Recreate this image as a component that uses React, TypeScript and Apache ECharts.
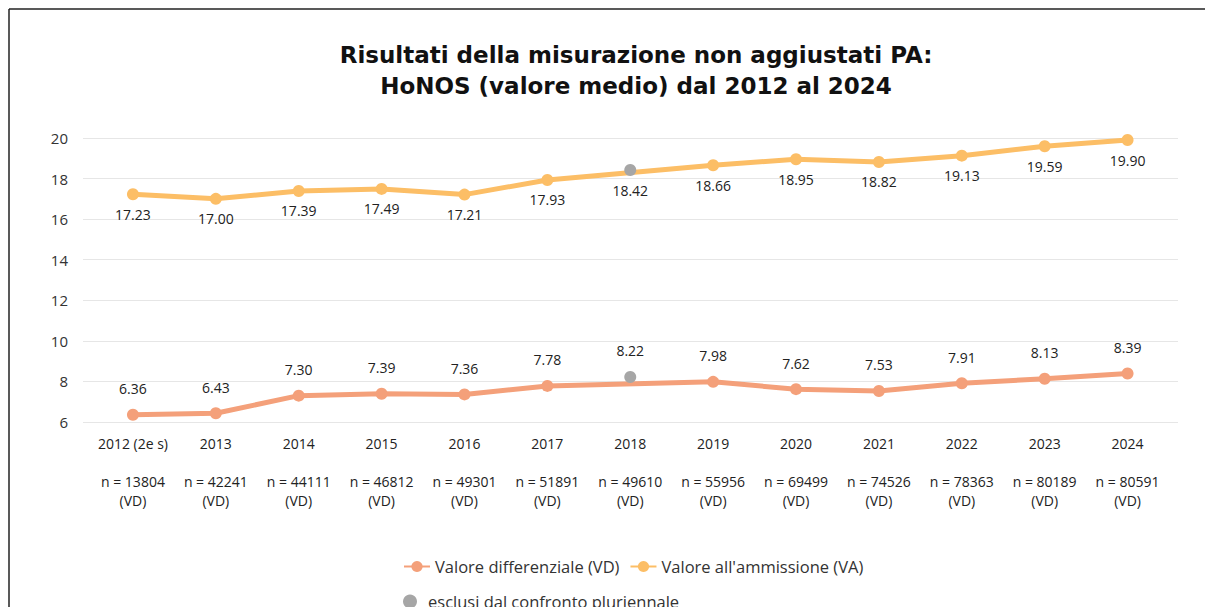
import React, { useEffect, useRef } from "react";
import * as echarts from "echarts";

const years = ["2012 (2e s)", "2013", "2014", "2015", "2016", "2017", "2018", "2019", "2020", "2021", "2022", "2023", "2024"];
const sampleSizes = ["13804", "42241", "44111", "46812", "49301", "51891", "49610", "55956", "69499", "74526", "78363", "80189", "80591"];
const vdValues = [6.36, 6.43, 7.3, 7.39, 7.36, 7.78, null, 7.98, 7.62, 7.53, 7.91, 8.13, 8.39];
const vaValues = [17.23, 17.0, 17.39, 17.49, 17.21, 17.93, null, 18.66, 18.95, 18.82, 19.13, 19.59, 19.9];
const excludedYear = "2018";
const excludedVA = 18.42;
const excludedVD = 8.22;
const yTicks = { min: 6, max: 20, interval: 2 };

const FONT = "Open Sans";
const C_VD = "#F4A07A";
const C_VA = "#FCBE66";
const C_EX = "#A6A6A6";

export default function App() {
  const ref = useRef<HTMLDivElement>(null);
  useEffect(() => {
    if (!ref.current) return;
    const chart = echarts.init(ref.current, null, { renderer: "svg" });
    const catLabels = years.map((y, i) => `${y}\n\nn = ${sampleSizes[i]}\n(VD)`);
    const exIdx = years.indexOf(excludedYear);
    const fmt = (p: any) => {
      const v = Array.isArray(p.value) ? p.value[1] : p.value;
      return v == null ? "" : Number(v).toFixed(2);
    };
    const labelBase = { show: true, fontFamily: FONT, fontSize: 14, color: "#222", formatter: fmt };
    chart.setOption({
      animation: false,
      backgroundColor: "#fff",
      textStyle: { fontFamily: FONT },
      title: {
        text: "Risultati della misurazione non aggiustati PA:\nHoNOS (valore medio) dal 2012 al 2024",
        left: 631,
        top: 34,
        textAlign: "center",
        textStyle: { fontFamily: "DejaVu Sans", fontSize: 23, fontWeight: "bold", color: "#111", lineHeight: 31 },
      },
      graphic: [
        { type: "line", shape: { x1: 9, y1: 9, x2: 1205, y2: 9 }, style: { stroke: "#222", lineWidth: 1.5 } },
        { type: "line", shape: { x1: 9, y1: 9, x2: 9, y2: 607 }, style: { stroke: "#222", lineWidth: 1.5 } },
      ],
      legend: [
        {
          data: ["Valore differenziale (VD)", "Valore all'ammissione (VA)"],
          left: 398,
          top: 553,
          itemWidth: 26,
          itemHeight: 14,
          itemGap: 10,
          textStyle: { fontFamily: FONT, fontSize: 16.5, color: "#333" },
        },
        {
          data: ["esclusi dal confronto pluriennale"],
          left: 398,
          top: 588,
          itemWidth: 26,
          itemHeight: 14,
          textStyle: { fontFamily: FONT, fontSize: 16.5, color: "#333" },
        },
      ],
      grid: [
        { left: 83, right: 27, top: 138, bottom: 185 },
        { left: 91.5, right: 36, top: 138, bottom: 185 },
      ],
      xAxis: [
        { type: "category", gridIndex: 0, data: years, show: false },
        {
          type: "category",
          gridIndex: 1,
          data: catLabels,
          axisLine: { show: false },
          axisTick: { show: false },
          axisLabel: { interval: 0, margin: 12, fontFamily: FONT, fontSize: 14, color: "#222", lineHeight: 19 },
        },
      ],
      yAxis: [
        {
          type: "value",
          gridIndex: 0,
          min: yTicks.min,
          max: yTicks.max,
          interval: yTicks.interval,
          axisLine: { show: false },
          axisTick: { show: false },
          axisLabel: { margin: 15, fontFamily: FONT, fontSize: 15, color: "#333" },
          splitLine: { lineStyle: { color: "#E6E6E6", width: 1 } },
        },
        { type: "value", gridIndex: 1, min: yTicks.min, max: yTicks.max, interval: yTicks.interval, show: false },
      ],
      series: [
        {
          name: "Valore differenziale (VD)",
          type: "line",
          xAxisIndex: 1,
          yAxisIndex: 1,
          data: vdValues,
          connectNulls: true,
          symbol: "circle",
          symbolSize: 12,
          color: C_VD,
          lineStyle: { width: 5, color: C_VD },
          itemStyle: { color: C_VD },
          label: { ...labelBase, position: "top", distance: 13 },
        },
        {
          name: "Valore all'ammissione (VA)",
          type: "line",
          xAxisIndex: 1,
          yAxisIndex: 1,
          data: vaValues,
          connectNulls: true,
          symbol: "circle",
          symbolSize: 12,
          color: C_VA,
          lineStyle: { width: 5, color: C_VA },
          itemStyle: { color: C_VA },
          label: { ...labelBase, position: "bottom", distance: 7 },
        },
        {
          name: "esclusi dal confronto pluriennale",
          type: "scatter",
          xAxisIndex: 1,
          yAxisIndex: 1,
          symbol: "circle",
          symbolSize: 12,
          color: C_EX,
          itemStyle: { color: C_EX, opacity: 1 },
          label: { ...labelBase },
          z: 5,
          data: [
            { value: [exIdx, excludedVA], label: { ...labelBase, position: "bottom", distance: 7 } },
            { value: [exIdx, excludedVD], label: { ...labelBase, position: "top", distance: 13 } },
          ],
        },
      ],
    });
    return () => chart.dispose();
  }, []);
  return <div ref={ref} style={{ position: "absolute", left: 0, top: 0, width: 1205, height: 607 }} />;
}
